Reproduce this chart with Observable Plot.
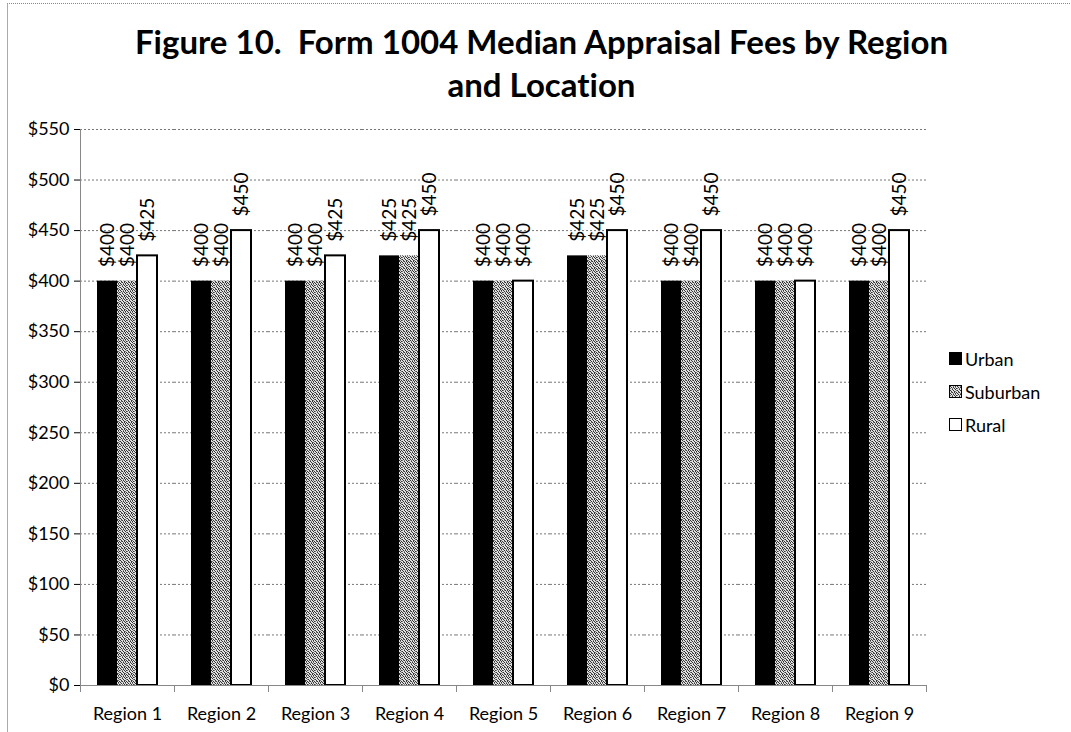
<!DOCTYPE html>
<html><head><meta charset="utf-8">
<script src="https://cdn.jsdelivr.net/npm/d3@7"></script>
<script src="https://cdn.jsdelivr.net/npm/@observablehq/plot@0.6"></script>
<style>
body{margin:0;background:#fff;font-family:Lato,"Open Sans",sans-serif;color:#000}
#wrap{position:relative;width:1071px;height:732px;overflow:hidden;background:#fff}
#border{position:absolute;left:7px;top:3px;width:1100px;height:800px;border-left:1px solid #aaa;border-top:1px dotted #888}
#title{position:absolute;top:20px;left:0;width:1083px;text-align:center;font-weight:bold;font-size:33px;line-height:43px;font-variant-ligatures:none}
#chart{position:absolute;left:0;top:100px}
#chart svg text{font-variant-ligatures:none}
#legend{position:absolute;left:949px;top:342px;font-size:18px}
#legend .item{display:flex;align-items:center;height:33px}
#legend svg{margin-right:3px}
</style></head>
<body>
<svg width="0" height="0" style="position:absolute">
  <defs>
    <pattern id="speckle" patternUnits="userSpaceOnUse" width="7" height="7">
      <rect width="7" height="7" fill="#e0e0e0"/>
      <g fill="#333">
        <rect x="0" y="0" width="1" height="1"/>
        <rect x="3" y="0" width="1" height="1"/>
        <rect x="5" y="0" width="1" height="1"/>
        <rect x="1" y="1" width="1" height="1"/>
        <rect x="6" y="1" width="1" height="1"/>
        <rect x="2" y="2" width="1" height="1"/>
        <rect x="4" y="2" width="1" height="1"/>
        <rect x="0" y="3" width="1" height="1"/>
        <rect x="5" y="3" width="1" height="1"/>
        <rect x="3" y="4" width="1" height="1"/>
        <rect x="6" y="4" width="1" height="1"/>
        <rect x="1" y="5" width="1" height="1"/>
        <rect x="4" y="5" width="1" height="1"/>
        <rect x="2" y="6" width="1" height="1"/>
        <rect x="5" y="6" width="1" height="1"/>
      </g>
      <g fill="#777">
        <rect x="2" y="0" width="1" height="1"/>
        <rect x="4" y="1" width="1" height="1"/>
        <rect x="6" y="2" width="1" height="1"/>
        <rect x="1" y="3" width="1" height="1"/>
        <rect x="0" y="5" width="1" height="1"/>
        <rect x="6" y="6" width="1" height="1"/>
        <rect x="3" y="3" width="1" height="1"/>
      </g>
    </pattern>
  </defs>
</svg>
<div id="wrap">
  <div id="border"></div>
  <div id="title">Figure 10.&nbsp; Form 1004 Median Appraisal Fees by Region<br>and Location</div>
  <div id="chart"></div>
  <div id="legend"></div>
</div>
<script>
const regions = ["Region 1","Region 2","Region 3","Region 4","Region 5","Region 6","Region 7","Region 8","Region 9"];
const locations = ["Urban","Suburban","Rural"];
const urban    = [400,400,400,425,400,425,400,400,400];
const suburban = [400,400,400,425,400,425,400,400,400];
const rural    = [425,450,425,450,400,450,450,400,450];
const yTicks = [0,50,100,150,200,250,300,350,400,450,500,550];

const series = {Urban: urban, Suburban: suburban, Rural: rural};
const rows = [];
regions.forEach((r, i) => locations.forEach(loc => rows.push({region: r, loc, value: series[loc][i]})));

const fills = {Urban: "#000", Suburban: "url(#speckle)", Rural: "#fff"};
const strokes = {Urban: "none", Suburban: "none", Rural: "#000"};

const bars = locations.map(loc => Plot.barY(rows, {
  filter: d => d.loc === loc,
  fx: "region", x: "loc", y: "value",
  fill: fills[loc], stroke: strokes[loc], strokeWidth: 2
}));

const chart = Plot.plot({
  width: 1071, height: 632,
  marginTop: 29, marginBottom: 47, marginLeft: 80, marginRight: 145,
  style: {fontSize: "18px", fontFamily: "Lato, 'Open Sans', sans-serif", color: "#000", background: "transparent"},
  fx: {domain: regions, padding: 0, label: null, tickSize: 0, tickPadding: 22},
  x: {domain: locations, paddingInner: 0, paddingOuter: 0.74, axis: null},
  y: {domain: [0, 550], ticks: yTicks, tickFormat: d => "$" + d, label: null, tickSize: 6, tickPadding: 5},
  marks: [
    Plot.gridY(yTicks.slice(1), {stroke: "#777", strokeOpacity: 1, strokeDasharray: "2,2"}),
    ...bars,
    Plot.ruleY([0], {stroke: "#888"}),
    Plot.frame({facet: "super", anchor: "left", stroke: "#888"}),
    Plot.frame({anchor: "left", stroke: "#888", insetTop: 556, insetBottom: -6}),
    Plot.frame({anchor: "right", stroke: "#888", insetTop: 556, insetBottom: -6}),
    Plot.text(rows, {
      fx: "region", x: "loc", y: "value", text: d => "$" + d.value,
      rotate: -90, textAnchor: "start", dy: -14, fontSize: 19, fill: "#000"
    })
  ]
});
document.getElementById("chart").appendChild(chart);

const legend = d3.select("#legend");
locations.forEach(loc => {
  const item = legend.append("div").attr("class", "item");
  const s = item.append("svg").attr("width", 13).attr("height", 13);
  s.append("rect").attr("x", 0.5).attr("y", 0.5).attr("width", 12).attr("height", 12)
    .attr("fill", fills[loc]).attr("stroke", "#000").attr("stroke-width", 1);
  item.append("span").text(loc);
});
</script>
</body></html>
